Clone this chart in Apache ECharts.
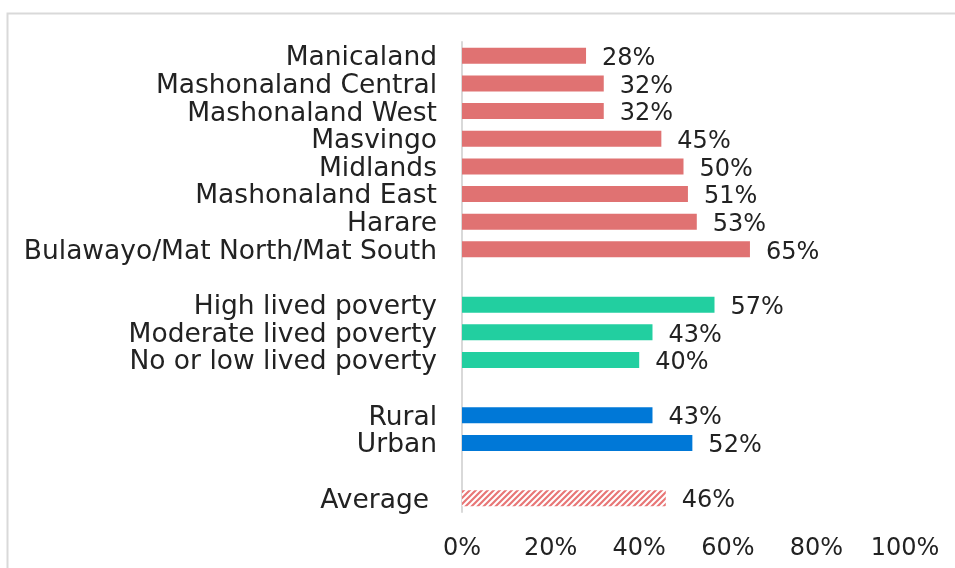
<!DOCTYPE html>
<html>
<head>
<meta charset="utf-8">
<script src="https://cdn.jsdelivr.net/npm/echarts@6/dist/echarts.min.js"></script>
<style>
  html, body { margin: 0; padding: 0; background: #fff; }
  #chart { width: 955px; height: 568px; }
</style>
</head>
<body>
<div id="chart"></div>
<script>
    // categories top to bottom, '' = gap row between groups
    var categories = [
        'Manicaland', 'Mashonaland Central', 'Mashonaland West', 'Masvingo',
        'Midlands', 'Mashonaland East', 'Harare', 'Bulawayo/Mat North/Mat South',
        '',
        'High lived poverty', 'Moderate lived poverty', 'No or low lived poverty',
        '',
        'Rural', 'Urban',
        '',
        'Average'
    ];
    var values = [28, 32, 32, 45, 50, 51, 53, 65, '-', 57, 43, 40, '-', 43, 52, '-', 46];
    var groups = ['prov', 'prov', 'prov', 'prov', 'prov', 'prov', 'prov', 'prov', '',
        'pov', 'pov', 'pov', '', 'loc', 'loc', '', 'avg'];

    function hatch() {
        var c = document.createElement('canvas');
        c.width = 6; c.height = 6;
        var ctx = c.getContext('2d');
        ctx.fillStyle = '#ffffff';
        ctx.fillRect(0, 0, 6, 6);
        ctx.strokeStyle = '#e87676';
        ctx.lineWidth = 2.2;
        ctx.beginPath();
        ctx.moveTo(-1, 7); ctx.lineTo(7, -1);
        ctx.moveTo(-4, 4); ctx.lineTo(4, -4);
        ctx.moveTo(2, 10); ctx.lineTo(10, 2);
        ctx.stroke();
        return c;
    }

    var colors = {
        prov: '#e07272',
        pov: '#22cfa0',
        loc: '#0078d7',
        avg: {image: hatch(), repeat: 'repeat'}
    };

    var barData = [];
    for (var i = 0; i < values.length; i++) {
        barData.push({value: values[i], itemStyle: {color: colors[groups[i]] || '#000'}});
    }

    var font = 'DejaVu Sans';
    var fs = 26.5;
    var option = {
        animation: false,
        graphic: [{
            type: 'polyline',
            shape: {points: [[7.5, 600], [7.5, 13.5], [1000, 13.5]]},
            style: {fill: null, stroke: '#d9d9d9', lineWidth: 2}
        }],
        grid: {left: 462, right: 50, top: 42, bottom: 56, containLabel: false},
        xAxis: {
            type: 'value',
            min: 0,
            max: 100,
            interval: 20,
            splitLine: {show: false},
            axisLine: {show: false},
            axisTick: {show: false},
            axisLabel: {
                formatter: '{value}%',
                fontFamily: font,
                fontSize: 24,
                color: '#222',
                margin: 25
            }
        },
        yAxis: {
            type: 'category',
            inverse: true,
            data: categories,
            axisTick: {show: false},
            axisLine: {show: true, lineStyle: {color: '#d9d9d9', width: 2}},
            axisLabel: {
                interval: 0,
                fontFamily: font,
                fontSize: fs,
                color: '#222',
                margin: 25,
                padding: [5, 0, 0, 0],
                formatter: function (v) {
                    return v == 'Average' ? '{avg|' + v + '}' : v;
                },
                rich: {
                    avg: {fontFamily: font, fontSize: fs, color: '#222', padding: [0, 8, 0, 0]}
                }
            }
        },
        series: [{
            type: 'bar',
            data: barData,
            barWidth: 16,
            label: {
                show: true,
                position: 'right',
                distance: 16,
                offset: [0, 3],
                formatter: '{c}%',
                fontFamily: font,
                fontSize: 24,
                color: '#222'
            }
        }]
    };
    var chart = echarts.init(document.getElementById('chart'));
    chart.setOption(option);
</script>
</body>
</html>
